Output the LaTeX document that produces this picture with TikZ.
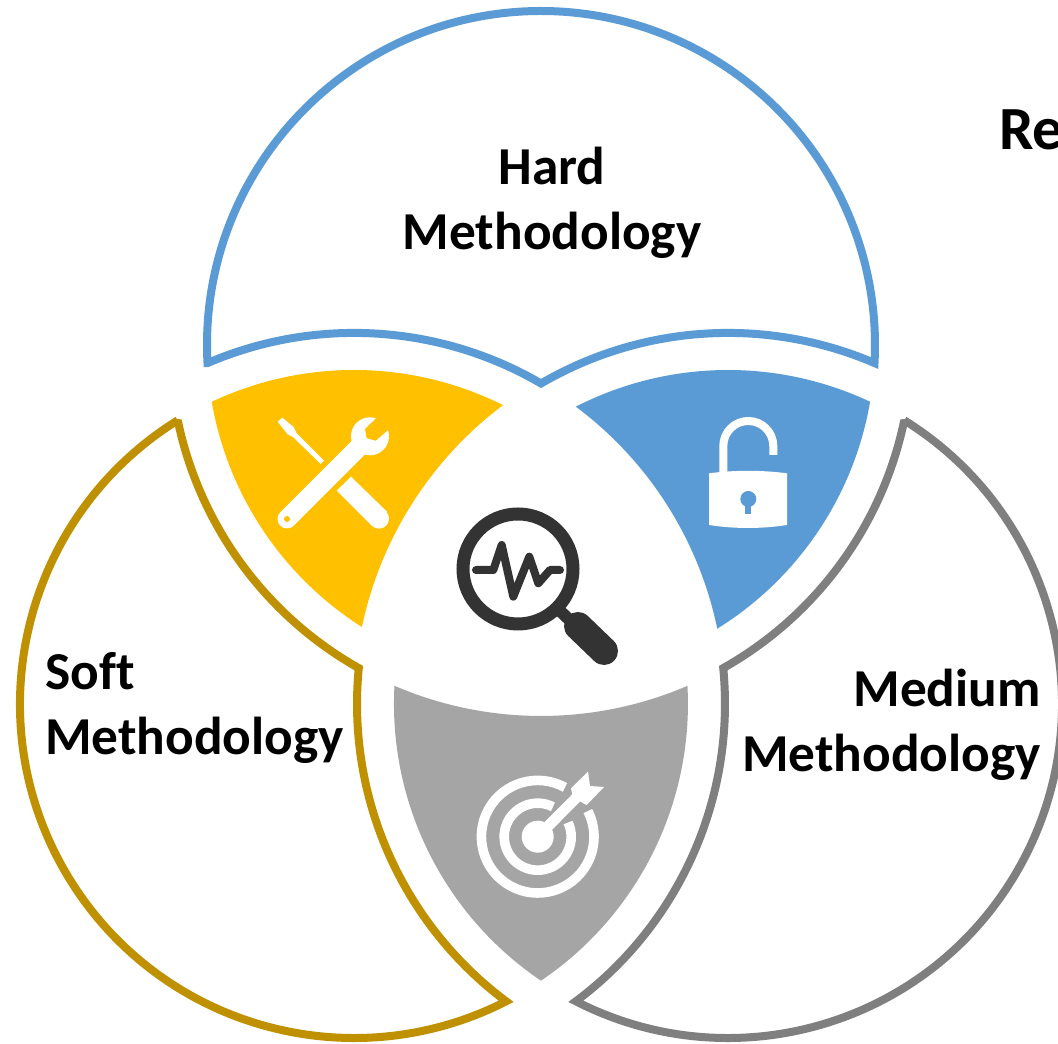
\documentclass[tikz,border=0pt]{standalone}
\usepackage{fontspec}
\setmainfont[Ligatures=NoCommon]{Carlito}
\definecolor{hardblue}{HTML}{5B9BD5}
\definecolor{softgold}{HTML}{BF9000}
\definecolor{softyellow}{HTML}{FFC000}
\definecolor{mediumgray}{HTML}{7F7F7F}
\definecolor{targetgray}{HTML}{A5A5A5}
\definecolor{lensdark}{HTML}{333333}
\tikzset{
	petal/.style={line width=6pt, miter limit=2},
	methodlabel/.style={inner sep=0pt, font=\fontsize{40}{48.75}\selectfont\bfseries},
	iconline/.style={line cap=round, line join=round},
}
\begin{document}
\begin{tikzpicture}[x=0.75pt,y=0.75pt]
	\clip (0,0) rectangle (1058,1044);
	\fill[white] (0,0) rectangle (1058,1044);

	\coordinate (T) at (541,699);
	\coordinate (S) at (354,340);
	\coordinate (M) at (728,340);

	% outlines
	\draw[petal, hardblue] (T) ++(183.1:334) arc[start angle=183.1,end angle=-3.1,radius=334]
		arc[start angle=66.75,end angle=120.27,radius=371]
		arc[start angle=59.73,end angle=113.25,radius=371] -- cycle;
	\draw[petal, softgold] (S) ++(121.86:334) arc[start angle=121.86,end angle=297.1,radius=334]
		arc[start angle=233.27,end angle=174.45,radius=371]
		arc[start angle=240.58,end angle=191.71,radius=371] -- cycle;
	\draw[petal, mediumgray] (M) ++(58.14:334) arc[start angle=58.14,end angle=-117.1,radius=334]
		arc[start angle=-53.27,end angle=5.55,radius=371]
		arc[start angle=-60.58,end angle=-11.71,radius=371] -- cycle;

	% overlaps
	\fill[softyellow] (S) ++(115.18:334) arc[start angle=115.18,end angle=63.5,radius=334]
		arc[start angle=126.96,end angle=168.12,radius=374]
		arc[start angle=237.6,end angle=189.78,radius=334] -- cycle;
	\fill[hardblue] (M) ++(64.82:334) arc[start angle=64.82,end angle=117.1,radius=334]
		arc[start angle=53.27,end angle=11.71,radius=371]
		arc[start angle=-58.14,end angle=-9.78,radius=334] -- cycle;
	\fill[targetgray] (T) ++(246.75:371) arc[start angle=246.75,end angle=293.25,radius=371]
		arc[start angle=3.11,end angle=-55.95,radius=334]
		arc[start angle=235.95,end angle=176.89,radius=334] -- cycle;

	\node[methodlabel, align=center, anchor=base] (hard) at (552,794) {Hard\\Methodology};
	\node[methodlabel, align=left, anchor=base west] (soft) at (45,289.5) {Soft\\Methodology};
	\node[methodlabel, align=right, anchor=base east] (medium) at (1041,272.5) {Medium\\Methodology};
	\node[inner sep=0pt, anchor=base west, font=\fontsize{46}{50}\selectfont\bfseries] (re) at (999,894) {Re};

	\begin{scope}[shift={(0,1044)}, yscale=-1]
		% tools
		\draw[white, line width=14.25pt, line cap=round] (370,436) -- (287,519);
		\fill[white] (370,436.3) circle[radius=19];
		\fill[softyellow] (376.5,418) -- (365,429) -- (366.7,438.3) -- (375.7,440.7) -- (388,430) -- (396,412) -- cycle;
		\fill[softyellow] (287,519) circle[radius=3];
		\fill[white] (277.7,421.7) -- (282.3,417.7) -- (293.3,426.7) -- (296.7,433.3) -- (324,460.7) -- (320.7,464)
			-- (293.3,437.3) -- (287.3,434) -- cycle;
		\fill[white] (351,476.7) -- (336.7,490.7) -- (371.7,525.7) -- (387,511.7) -- cycle;
		\fill[white] (379,518.7) circle[radius=10];

		% lock
		\draw[white, line width=6pt] (723.3,475) -- (723.3,446) arc[start angle=180,end angle=360,radius=25] -- (773.3,455);
		\fill[white] (709,473.3) .. controls (735,470) and (761,470) .. (787,473.3) -- (787,525)
			.. controls (761,529) and (735,529) .. (709,525) -- cycle;
		\fill[hardblue] (748.3,499) circle[radius=8];
		\fill[hardblue] (745,500) rectangle (751,514.5);

		% magnifier
		\draw[lensdark, line width=9.75pt] (518,569) circle[radius=55];
		\draw[lensdark, line width=9pt] (558,609) -- (578,628);
		\draw[lensdark, line width=21pt, line cap=round] (578,626) -- (604,651);
		\draw[lensdark, line width=6pt, iconline] (476,570) -- (493.3,570) -- (501.7,545) -- (513.3,596.7)
			-- (529.3,556.7) -- (538.3,583.3) -- (550,570) -- (560,570);

		% target
		\coordinate (C) at (537.7,836.7);
		\fill[white] (C) circle[radius=16];
		\draw[white, line width=7.2pt] (C) ++(-63:33.5) arc[start angle=-63,end angle=-385,radius=33.5];
		\draw[white, line width=7.2pt] (C) ++(-61:56.3) arc[start angle=-61,end angle=-387,radius=56.3];
		\draw[white, line width=8pt] (C) -- (580,794);
		\fill[white] (571,788.3) -- (588,771.7) -- (590,786) -- (604,787) -- (586.7,805) -- (583.3,803.3) -- (572.7,796.7) -- cycle;
	\end{scope}
\end{tikzpicture}
\end{document}
